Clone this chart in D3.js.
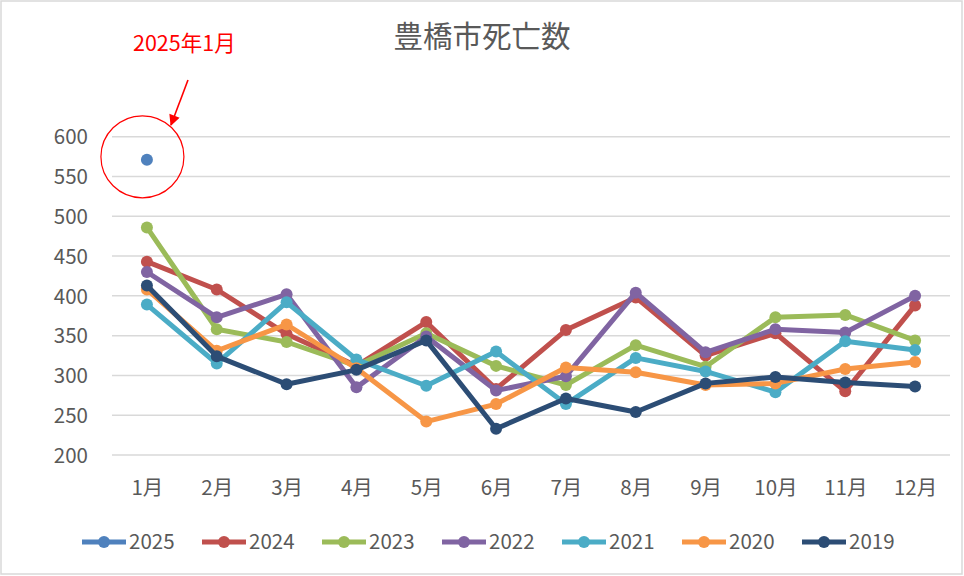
<!DOCTYPE html>
<html><head><meta charset="utf-8">
<script src="https://cdn.jsdelivr.net/npm/d3@7"></script>
<style>body{margin:0;background:#fff}svg{display:block}text{font-family:"Noto Sans CJK JP","Noto Sans",sans-serif}</style>
</head><body><svg id="c" width="964" height="576"></svg>
<script>
const months = ["1月","2月","3月","4月","5月","6月","7月","8月","9月","10月","11月","12月"];
const yTicks = [200,250,300,350,400,450,500,550,600];
const seriesNames = ["2025","2024","2023","2022","2021","2020","2019"];
const seriesColors = ["#4f81bd","#c0504d","#9bbb59","#8064a2","#4bacc6","#f79646","#2c4d75"];
const v2025 = [571];
const v2024 = [443,408,352,312,367,283,357,398,325,353,280,388];
const v2023 = [486,358,342,312,353,312,288,338,311,373,376,344];
const v2022 = [430,373,402,285,349,281,299,404,329,358,354,400];
const v2021 = [389,315,392,320,287,330,264,322,305,279,343,332];
const v2020 = [408,331,364,309,242,264,310,304,288,290,308,317];
const v2019 = [413,324,289,307,344,233,271,254,290,298,291,286];
const title = "豊橋市死亡数";
const annotation = "2025年1月";

const values = [v2025,v2024,v2023,v2022,v2021,v2020,v2019];
const svg = d3.select("#c");
svg.append("rect").attr("x",1).attr("y",1).attr("width",961).attr("height",573)
  .attr("fill","#fff").attr("stroke","#d9d9d9").attr("stroke-width",1.5);

const x = d3.scalePoint().domain(months).range([112,950]).padding(0.5);
const y = d3.scaleLinear().domain([200,600]).range([455,136.7]);

svg.append("g").selectAll("line").data(yTicks).join("line")
  .attr("x1",112).attr("x2",950).attr("y1",d=>y(d)).attr("y2",d=>y(d))
  .attr("stroke","#d9d9d9").attr("stroke-width",1.5);

const yAxis = d3.axisLeft(y).tickValues(yTicks).tickSize(0).tickPadding(0);
const gy = svg.append("g").attr("transform","translate(88,0)").call(yAxis);
gy.select(".domain").remove();
gy.selectAll("text").attr("font-size",20.5).attr("fill","#595959").attr("dy","0.35em")
  .style("font-family",'"Noto Sans CJK JP",sans-serif');

const xAxis = d3.axisBottom(x).tickSize(0).tickPadding(0);
const gx = svg.append("g").attr("transform","translate(0,488)").call(xAxis);
gx.select(".domain").remove();
gx.selectAll("text").attr("font-size",20.5).attr("fill","#595959").attr("dy","0.35em")
  .style("font-family",'"Noto Sans CJK JP",sans-serif');

const line = d3.line().x((d,i)=>x(months[i])).y(d=>y(d));
values.forEach((vals,si)=>{
  const g = svg.append("g");
  if (vals.length>1) g.append("path").datum(vals).attr("d",line)
    .attr("fill","none").attr("stroke",seriesColors[si]).attr("stroke-width",5)
    .attr("stroke-linejoin","round");
  g.selectAll("circle").data(vals).join("circle")
    .attr("cx",(d,i)=>x(months[i])).attr("cy",d=>y(d)).attr("r",6)
    .attr("fill",seriesColors[si]);
});

svg.append("text").attr("x",482).attr("y",47).attr("text-anchor","middle")
  .attr("font-size",29.5).attr("fill","#595959").text(title);

svg.append("text").attr("x",133).attr("y",51).attr("font-size",21.5).attr("fill","#ff0000").text(annotation);
svg.append("ellipse").attr("cx",x(months[0])-4.5).attr("cy",y(v2025[0])-3).attr("rx",41.5).attr("ry",41)
  .attr("fill","none").attr("stroke","#ff0000").attr("stroke-width",1.2);
const defs = svg.append("defs");
defs.append("marker").attr("id","ah").attr("viewBox","0 0 10 10").attr("refX",9).attr("refY",5)
  .attr("markerWidth",13).attr("markerHeight",11).attr("markerUnits","userSpaceOnUse").attr("orient","auto")
  .append("path").attr("d","M0,0 L10,5 L0,10 z").attr("fill","#ff0000");
svg.append("line").attr("x1",188).attr("y1",80).attr("x2",171).attr("y2",125)
  .attr("stroke","#ff0000").attr("stroke-width",1.6).attr("marker-end","url(#ah)");

const legStart = 82, legStep = 120, legY = 542;
const lg = svg.append("g");
seriesNames.forEach((n,i)=>{
  const lx = legStart + i*legStep;
  lg.append("line").attr("x1",lx).attr("x2",lx+44).attr("y1",legY).attr("y2",legY)
    .attr("stroke",seriesColors[i]).attr("stroke-width",5);
  lg.append("circle").attr("cx",lx+22).attr("cy",legY).attr("r",6).attr("fill",seriesColors[i]);
  lg.append("text").attr("x",lx+47).attr("y",legY).attr("dy","0.35em").attr("font-size",20.5)
    .attr("fill","#595959").text(n);
});
</script></body></html>
